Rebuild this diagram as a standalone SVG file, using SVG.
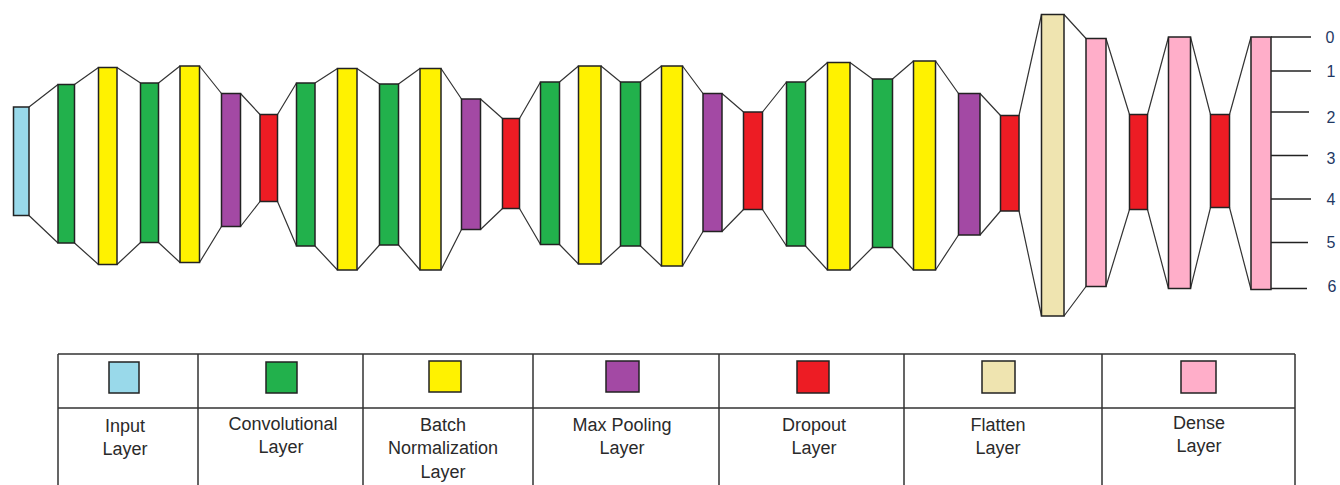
<svg xmlns="http://www.w3.org/2000/svg" width="1340" height="485" viewBox="0 0 1340 485">
<style>
.bar{stroke:#222;stroke-width:1.5}
.in{fill:#99d9ea}.cv{fill:#22b14c}.bn{fill:#fff200}.mp{fill:#a349a4}.do{fill:#ed1c24}.fl{fill:#efe4b0}.de{fill:#ffaec9}
.con{fill:none;stroke:#333;stroke-width:1.2}
.grid{fill:none;stroke:#333;stroke-width:1.5}
.sw{stroke:#222;stroke-width:1.5}
.lbl{font-family:"Liberation Sans",Arial,sans-serif;font-size:18px;fill:#2a2a2a;text-anchor:middle}
.tick{stroke:#222;stroke-width:1.3}
.num{font-family:"Liberation Sans",Arial,sans-serif;font-size:16px;fill:#1f3864;text-anchor:middle}
</style>
<rect width="1340" height="485" fill="#fff"/>
<g id="connectors">
<path class="con" d="M29 107 L58 84.5 M29 215.5 L58 243 M74.5 84.5 L98.5 67.5 M74.5 243 L98.5 264.5 M117 67.5 L140.5 83 M117 264.5 L140.5 242.5 M158.5 83 L180 66 M158.5 242.5 L180 262.5 M199.5 66 L221.5 93.5 M199.5 262.5 L221.5 226.5 M240.5 93.5 L260 114.5 M240.5 226.5 L260 201.5 M277.5 114.5 L296.5 83 M277.5 201.5 L296.5 246 M315 83 L337.5 68.5 M315 246 L337.5 270 M357 68.5 L379.5 84 M357 270 L379.5 245 M398.5 84 L420 68.5 M398.5 245 L420 270 M441 68.5 L461.5 99 M441 270 L461.5 229.5 M480.5 99 L502.5 118.5 M480.5 229.5 L502.5 208.5 M519.5 118.5 L540.5 82 M519.5 208.5 L540.5 244.5 M559.5 82 L578.5 66 M559.5 244.5 L578.5 264 M601 66 L620.5 82 M601 264 L620.5 246 M640.5 82 L661.5 66 M640.5 246 L661.5 266 M682.5 66 L703 93.5 M682.5 266 L703 231.5 M722 93.5 L743.5 112 M722 231.5 L743.5 209.5 M762.5 112 L786.5 82 M762.5 209.5 L786.5 246 M805.5 82 L827.5 62.5 M805.5 246 L827.5 270 M850 62.5 L872.5 79 M850 270 L872.5 247.5 M892.5 79 L913.5 61 M892.5 247.5 L913.5 270 M935.5 61 L958.5 93.5 M935.5 270 L958.5 235 M980 93.5 L1000.5 115.5 M980 235 L1000.5 211 M1019 115.5 L1041.5 14.5 M1019 211 L1041.5 316 M1064 14.5 L1086 38.5 M1064 316 L1086 286.5 M1106 38.5 L1129.5 114.5 M1106 286.5 L1129.5 209.5 M1147.5 114.5 L1168.5 37 M1147.5 209.5 L1168.5 288.5 M1190.5 37 L1210.5 114.5 M1190.5 288.5 L1210.5 207.5 M1229.5 114.5 L1251 37 M1229.5 207.5 L1251 289.5"/>
</g>
<g id="input"><rect class="bar in" x="13.5" y="107" width="15.5" height="108.5"/></g>
<g id="conv1"><rect class="bar cv" x="58" y="84.5" width="16.5" height="158.5"/></g>
<g id="bn1"><rect class="bar bn" x="98.5" y="67.5" width="18.5" height="197"/></g>
<g id="conv2"><rect class="bar cv" x="140.5" y="83" width="18" height="159.5"/></g>
<g id="bn2"><rect class="bar bn" x="180" y="66" width="19.5" height="196.5"/></g>
<g id="pool1"><rect class="bar mp" x="221.5" y="93.5" width="19" height="133"/></g>
<g id="drop1"><rect class="bar do" x="260" y="114.5" width="17.5" height="87"/></g>
<g id="conv3"><rect class="bar cv" x="296.5" y="83" width="18.5" height="163"/></g>
<g id="bn3"><rect class="bar bn" x="337.5" y="68.5" width="19.5" height="201.5"/></g>
<g id="conv4"><rect class="bar cv" x="379.5" y="84" width="19" height="161"/></g>
<g id="bn4"><rect class="bar bn" x="420" y="68.5" width="21" height="201.5"/></g>
<g id="pool2"><rect class="bar mp" x="461.5" y="99" width="19" height="130.5"/></g>
<g id="drop2"><rect class="bar do" x="502.5" y="118.5" width="17" height="90"/></g>
<g id="conv5"><rect class="bar cv" x="540.5" y="82" width="19" height="162.5"/></g>
<g id="bn5"><rect class="bar bn" x="578.5" y="66" width="22.5" height="198"/></g>
<g id="conv6"><rect class="bar cv" x="620.5" y="82" width="20" height="164"/></g>
<g id="bn6"><rect class="bar bn" x="661.5" y="66" width="21" height="200"/></g>
<g id="pool3"><rect class="bar mp" x="703" y="93.5" width="19" height="138"/></g>
<g id="drop3"><rect class="bar do" x="743.5" y="112" width="19" height="97.5"/></g>
<g id="conv7"><rect class="bar cv" x="786.5" y="82" width="19" height="164"/></g>
<g id="bn7"><rect class="bar bn" x="827.5" y="62.5" width="22.5" height="207.5"/></g>
<g id="conv8"><rect class="bar cv" x="872.5" y="79" width="20" height="168.5"/></g>
<g id="bn8"><rect class="bar bn" x="913.5" y="61" width="22" height="209"/></g>
<g id="pool4"><rect class="bar mp" x="958.5" y="93.5" width="21.5" height="141.5"/></g>
<g id="drop4"><rect class="bar do" x="1000.5" y="115.5" width="18.5" height="95.5"/></g>
<g id="flatten"><rect class="bar fl" x="1041.5" y="14.5" width="22.5" height="301.5"/></g>
<g id="dense1"><rect class="bar de" x="1086" y="38.5" width="20" height="248"/></g>
<g id="drop5"><rect class="bar do" x="1129.5" y="114.5" width="18" height="95"/></g>
<g id="dense2"><rect class="bar de" x="1168.5" y="37" width="22" height="251.5"/></g>
<g id="drop6"><rect class="bar do" x="1210.5" y="114.5" width="19" height="93"/></g>
<g id="dense3"><rect class="bar de" x="1251" y="37" width="20" height="252.5"/></g>
<g id="scale">
<line class="tick" x1="1271" y1="37" x2="1311" y2="37"/>
<line class="tick" x1="1271" y1="71" x2="1311" y2="71"/>
<line class="tick" x1="1271" y1="112" x2="1309" y2="112"/>
<line class="tick" x1="1271" y1="155.5" x2="1308" y2="155.5"/>
<line class="tick" x1="1271" y1="199" x2="1311" y2="199"/>
<line class="tick" x1="1271" y1="242.5" x2="1308" y2="242.5"/>
<line class="tick" x1="1271" y1="288.5" x2="1307" y2="288.5"/>
<text class="num" x="1330" y="43">0</text>
<text class="num" x="1331" y="77">1</text>
<text class="num" x="1331" y="123">2</text>
<text class="num" x="1331" y="164">3</text>
<text class="num" x="1331" y="204.5">4</text>
<text class="num" x="1331" y="248">5</text>
<text class="num" x="1332" y="292">6</text>
</g>
<g id="legend">
<path class="grid" d="M58 354 H1295 M58 408 H1295 M58 354 V486 M198 354 V486 M363 354 V486 M533 354 V486 M719 354 V486 M904 354 V486 M1102 354 V486 M1295 354 V486"/>
<g id="legend-input"><rect class="sw in" x="109" y="362" width="30" height="31"/><text class="lbl" x="125" y="432">Input</text><text class="lbl" x="125" y="455">Layer</text></g>
<g id="legend-conv"><rect class="sw cv" x="266" y="362" width="31" height="31"/><text class="lbl" x="283" y="430">Convolutional</text><text class="lbl" x="281" y="453">Layer</text></g>
<g id="legend-bn"><rect class="sw bn" x="429" y="361" width="32" height="31"/><text class="lbl" x="443" y="431">Batch</text><text class="lbl" x="443" y="454">Normalization</text><text class="lbl" x="443" y="477.5">Layer</text></g>
<g id="legend-pool"><rect class="sw mp" x="606" y="361" width="33" height="31"/><text class="lbl" x="622" y="431">Max Pooling</text><text class="lbl" x="622" y="454">Layer</text></g>
<g id="legend-drop"><rect class="sw do" x="797" y="361" width="32" height="32"/><text class="lbl" x="814" y="431">Dropout</text><text class="lbl" x="814" y="454">Layer</text></g>
<g id="legend-flatten"><rect class="sw fl" x="982" y="361" width="33" height="32"/><text class="lbl" x="998" y="431">Flatten</text><text class="lbl" x="998" y="454">Layer</text></g>
<g id="legend-dense"><rect class="sw de" x="1181" y="361" width="35" height="32"/><text class="lbl" x="1199" y="429">Dense</text><text class="lbl" x="1199" y="452">Layer</text></g>
</g>
</svg>
